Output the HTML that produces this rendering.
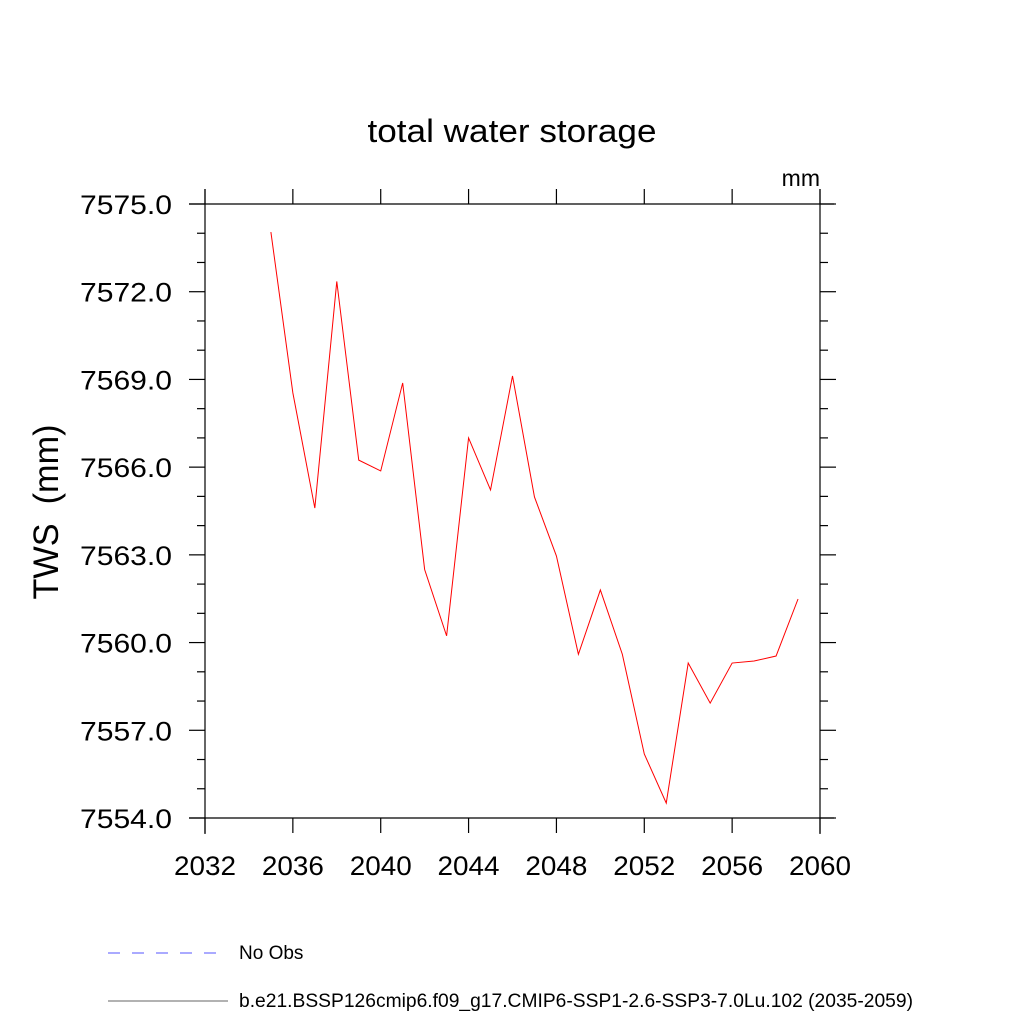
<!DOCTYPE html>
<html><head><meta charset="utf-8"><style>body{margin:0;background:#fff}</style></head>
<body>
<svg id="chart" width="1024" height="1024" xmlns="http://www.w3.org/2000/svg" font-family="Liberation Sans, sans-serif">
<text x="512" y="142" font-size="32" text-anchor="middle" textLength="289" lengthAdjust="spacingAndGlyphs">total water storage</text>
<text x="820" y="186" font-size="23" text-anchor="end">mm</text>
<text transform="translate(58,512) rotate(-90)" font-size="35" text-anchor="middle" textLength="175" lengthAdjust="spacingAndGlyphs" xml:space="preserve">TWS  (mm)</text>
<g id="axes" stroke="#000" stroke-width="1.2" fill="none"></g>
<g id="ticklabels" font-size="27"></g>
<polyline id="series" fill="none" stroke="#ff0000" stroke-width="1"/>
<line x1="108" y1="953" x2="218" y2="953" stroke="#5555ff" stroke-width="1" stroke-dasharray="12,12"/>
<text x="239" y="959" font-size="19">No Obs</text>
<line x1="108" y1="1001" x2="228" y2="1001" stroke="#666" stroke-width="1"/>
<text x="239" y="1007" font-size="19" textLength="674" lengthAdjust="spacingAndGlyphs">b.e21.BSSP126cmip6.f09_g17.CMIP6-SSP1-2.6-SSP3-7.0Lu.102 (2035-2059)</text>
</svg>
<script>
const years=[2035,2036,2037,2038,2039,2040,2041,2042,2043,2044,2045,2046,2047,2048,2049,2050,2051,2052,2053,2054,2055,2056,2057,2058,2059];
const tws=[7574.04,7568.54,7564.6,7572.35,7566.24,7565.87,7568.88,7562.5,7560.23,7567.0,7565.22,7569.12,7564.98,7562.96,7559.6,7561.8,7559.6,7556.19,7554.51,7559.3,7557.93,7559.3,7559.37,7559.54,7561.49];
const xTicks=[2032,2036,2040,2044,2048,2052,2056,2060];
const yTicks=[7554,7557,7560,7563,7566,7569,7572,7575];
const x0=205,x1=820,y0=818,y1=204,xmin=2032,xmax=2060,ymin=7554,ymax=7575;
const X=v=>x0+(v-xmin)/(xmax-xmin)*(x1-x0);
const Y=v=>y0-(v-ymin)/(ymax-ymin)*(y0-y1);
const NS='http://www.w3.org/2000/svg';
const ax=document.getElementById('axes'),tl=document.getElementById('ticklabels');
function ln(a,b,c,d,n){const l=document.createElementNS(NS,'line');l.setAttribute('x1',a);l.setAttribute('y1',b);l.setAttribute('x2',c);l.setAttribute('y2',d);


ax.appendChild(l);}
ln(x0,189,x0,834,'left-axis');ln(x1,189,x1,834,'right-axis');ln(189,y1,834,y1,'top-axis');ln(189,y0,834,y0,'bottom-axis');
xTicks.forEach(t=>{const x=X(t);ln(x,y0,x,y0+15,'x-tick');ln(x,y1,x,y1-15,'x-tick-top');
const e=document.createElementNS(NS,'text');e.setAttribute('x',x);e.setAttribute('y',875);e.setAttribute('text-anchor','middle');
e.setAttribute('textLength','62');e.setAttribute('lengthAdjust','spacingAndGlyphs');e.textContent=t;


tl.appendChild(e);});
for(let v=ymin;v<=ymax;v++){const y=Y(v);const major=yTicks.includes(v);const L=major?16:8;
ln(x0-L,y,x0,y,'y-tick');ln(x1,y,x1+L,y,'y-tick-right');}
yTicks.forEach(t=>{const e=document.createElementNS(NS,'text');e.setAttribute('x',80);e.setAttribute('y',Y(t)+10);
e.setAttribute('textLength','92');e.setAttribute('lengthAdjust','spacingAndGlyphs');e.textContent=t.toFixed(1);


tl.appendChild(e);});
document.getElementById('series').setAttribute('points',years.map((y,i)=>X(y)+','+Y(tws[i])).join(' '));
</script>
</body></html>
